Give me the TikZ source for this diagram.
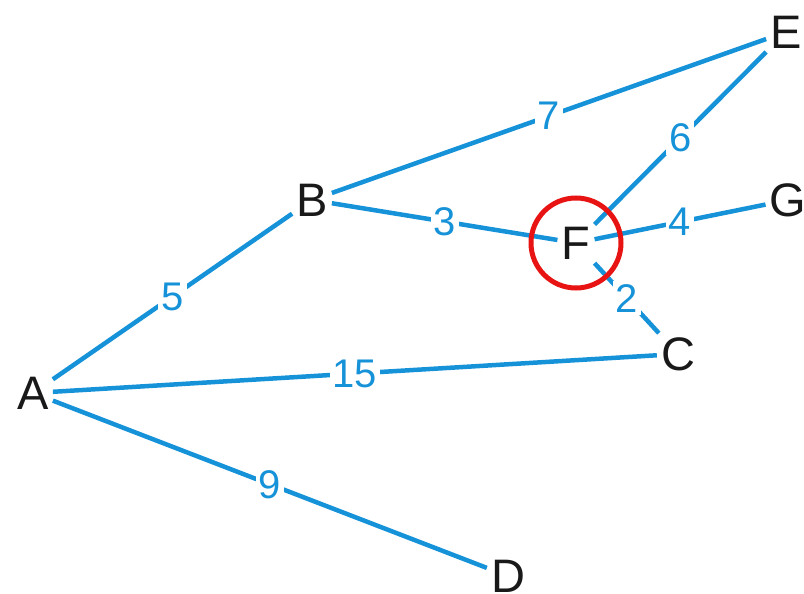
\documentclass[tikz,border=0pt]{standalone}
\usepackage{fontspec}
\setmainfont{Liberation Sans}
\usepackage{tikz}
\usetikzlibrary{calc}
\definecolor{edgeblue}{RGB}{22,146,216}
\definecolor{markred}{RGB}{232,20,20}

\begin{document}
\begin{tikzpicture}[x=1pt,y=-1pt,
  vx/.style={inner sep=4pt,font=\fontsize{47}{50}\selectfont,text=black!90},
  wt/.style={fill=white,inner sep=3pt,font=\fontsize{40}{42}\selectfont,text=edgeblue},
  edge/.style={draw=edgeblue,line width=4.5pt}]
  \useasboundingbox (0,0) rectangle (804,594);
  \node[vx] (A) at (33,393) {A};
  \node[vx] (B) at (312,200) {B};
  \node[vx] (E) at (786,32) {E};
  \node[vx] (F) at (576,243) {F};
  \node[vx] (G) at (788,200) {G};
  \node[vx] (C) at (678,354) {C};
  \node[vx] (D) at (508,576) {D};
  \foreach \a/\b/\w in {A/B/5,B/E/7,F/E/6,B/F/3,F/G/4,F/C/2,A/C/15,A/D/9}
    \draw[edge] (\a) -- node[wt] {\w} (\b);
  \draw[markred,line width=5pt] (F) circle[radius=45];
\end{tikzpicture}
\end{document}
